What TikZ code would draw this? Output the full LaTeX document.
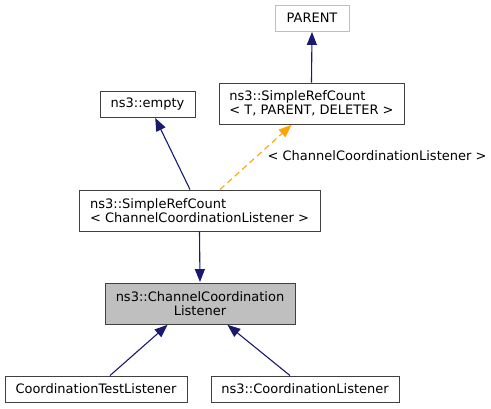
\documentclass[tikz,border=0pt]{standalone}
\usepackage{fontspec}
\setmainfont{DejaVu Sans}
\usetikzlibrary{arrows.meta}
\definecolor{edgeblue}{HTML}{191970}
\definecolor{edgeorange}{HTML}{FFA500}
\definecolor{boxgray}{HTML}{BFBFBF}
\definecolor{framegray}{HTML}{404040}
\begin{document}
\begin{tikzpicture}[x=1pt,y=-1pt,
  every node/.style={font=\fontsize{13}{14.5}\selectfont, inner sep=0pt},
  cls/.style={draw=framegray, line width=0.9pt, fill=white, align=left, minimum height=26pt},
  ext/.style={cls, draw=boxgray},
  cur/.style={cls, fill=boxgray, align=center},
  inh/.style={draw=edgeblue, line width=1.1pt, -{Triangle[length=13pt,width=10pt]}, shorten >=0.5pt},
  tpl/.style={inh, draw=edgeorange, dashed, dash pattern=on 6pt off 4pt, -{Triangle[length=13pt,width=10pt,fill=edgeorange]}}]
\useasboundingbox (0,0) rectangle (491,408);
\node[ext, minimum width=74pt] (N_0_0) at (312,18) {PARENT};
\node[cls, minimum width=95pt] (N_1_0) at (147.5,104) {ns3::empty};
\node[cls, minimum width=185pt, minimum height=41pt] (N_1_1) at (311.5,103.5) {ns3::SimpleRefCount\\< T, PARENT, DELETER >};
\draw[inh] (N_1_1.north) -- (N_0_0.south);
\node[cls, minimum width=241pt, minimum height=41pt] (N_2_0) at (199.5,210.5) {ns3::SimpleRefCount\\< ChannelCoordinationListener >};
\draw[inh] ([xshift=-9.5pt]N_2_0.north) -- ([xshift=7.5pt]N_1_0.south);
\draw[tpl] ([xshift=20.5pt]N_2_0.north) -- ([xshift=-19.5pt]N_1_1.south) node (L_2_0) [pos=0.515, anchor=west, xshift=10pt] {< ChannelCoordinationListener >};
\node[cur, minimum width=190pt, minimum height=41pt] (N_3_0) at (200,303.5) {ns3::ChannelCoordination\\Listener};
\draw[inh] (N_2_0.south) -- (N_3_0.north);
\node[cls, minimum width=182pt] (N_4_0) at (96,389) {CoordinationTestListener};
\draw[inh] ([xshift=14pt]N_4_0.north) -- ([xshift=-32pt]N_3_0.south);
\node[cls, minimum width=188pt] (N_4_1) at (305,389) {ns3::CoordinationListener};
\draw[inh] ([xshift=-15pt]N_4_1.north) -- ([xshift=27pt]N_3_0.south);
\end{tikzpicture}
\end{document}
